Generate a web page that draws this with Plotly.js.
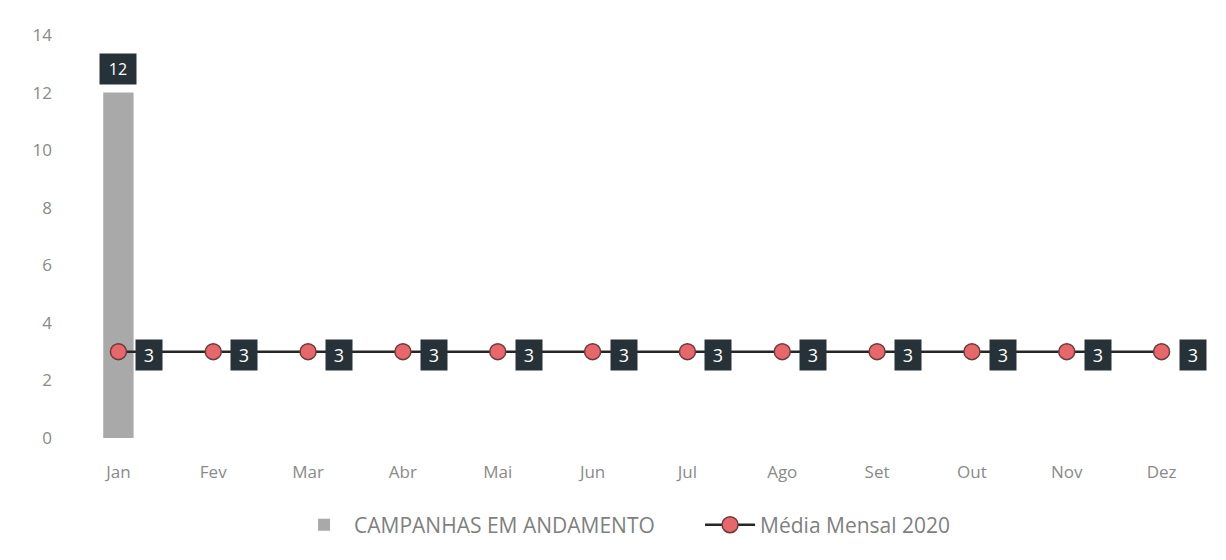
<!DOCTYPE html>
<html><head><meta charset="utf-8">
<script src="https://cdn.plot.ly/plotly-3.0.1.min.js"></script>
<style>body{margin:0;background:#fff}</style>
</head><body><div id="chart" style="width:1226px;height:560px"></div>
<script>
const months = ["Jan","Fev","Mar","Abr","Mai","Jun","Jul","Ago","Set","Out","Nov","Dez"];
const campanhas = [12,null,null,null,null,null,null,null,null,null,null,null];
const media = [3,3,3,3,3,3,3,3,3,3,3,3];
const yTicks = [0,2,4,6,8,10,12,14];

const traces = [
  {type:'bar', x:months, y:campanhas, name:'CAMPANHAS EM ANDAMENTO',
   marker:{color:'#a9a9a9'}, width:0.32, hoverinfo:'skip'},
  {type:'scatter', mode:'lines+markers', x:months, y:media, name:'Média Mensal 2020',
   line:{color:'#262626', width:2.5},
   marker:{color:'#e8676a', size:16, line:{color:'#6b3a3a', width:1.5}}}
];

const annotations = [];
campanhas.forEach((v,i)=>{
  if(v!=null) annotations.push({x:months[i], y:v, xref:'x', yref:'y', text:String(v),
    showarrow:false, yshift:24, bgcolor:'#263238', width:34, height:28, borderpad:1,
    font:{color:'#ffffff', size:16, family:'Open Sans, sans-serif'}});
});
media.forEach((v,i)=>{
  annotations.push({x:months[i], y:v, xref:'x', yref:'y', text:String(v),
    showarrow:false, xshift:31, yshift:-3, bgcolor:'#263238', width:24, height:28, borderpad:1,
    font:{color:'#ffffff', size:18, family:'Open Sans, sans-serif'}});
});

const layout = {
  width:1226, height:560,
  margin:{l:71, r:17, t:35, b:122, autoexpand:false},
  paper_bgcolor:'#ffffff', plot_bgcolor:'#ffffff',
  font:{family:'Open Sans, sans-serif', color:'#8a8a8a', size:17},
  xaxis:{type:'category', range:[-0.5, 11.5], showgrid:false, zeroline:false, showline:false, ticks:'',
    automargin:false, ticklabelstandoff:22,
    tickfont:{size:17, color:'#8a8a8a'}, fixedrange:true},
  yaxis:{range:[0,14], tickvals:yTicks, showgrid:false, zeroline:false, showline:false,
    automargin:false, ticks:'', tickfont:{size:17, color:'#8a8a8a'}, ticklabelstandoff:18},
  showlegend:true,
  legend:{orientation:'h', x:0.196, xanchor:'left', y:-0.216, yanchor:'middle',
    font:{size:21, color:'#7f7f7f'}, traceorder:'normal', itemwidth:50,
    entrywidth:341, entrywidthmode:'pixels'},
  annotations:annotations
};
Plotly.newPlot('chart', traces, layout, {displayModeBar:false, staticPlot:true});
</script></body></html>
